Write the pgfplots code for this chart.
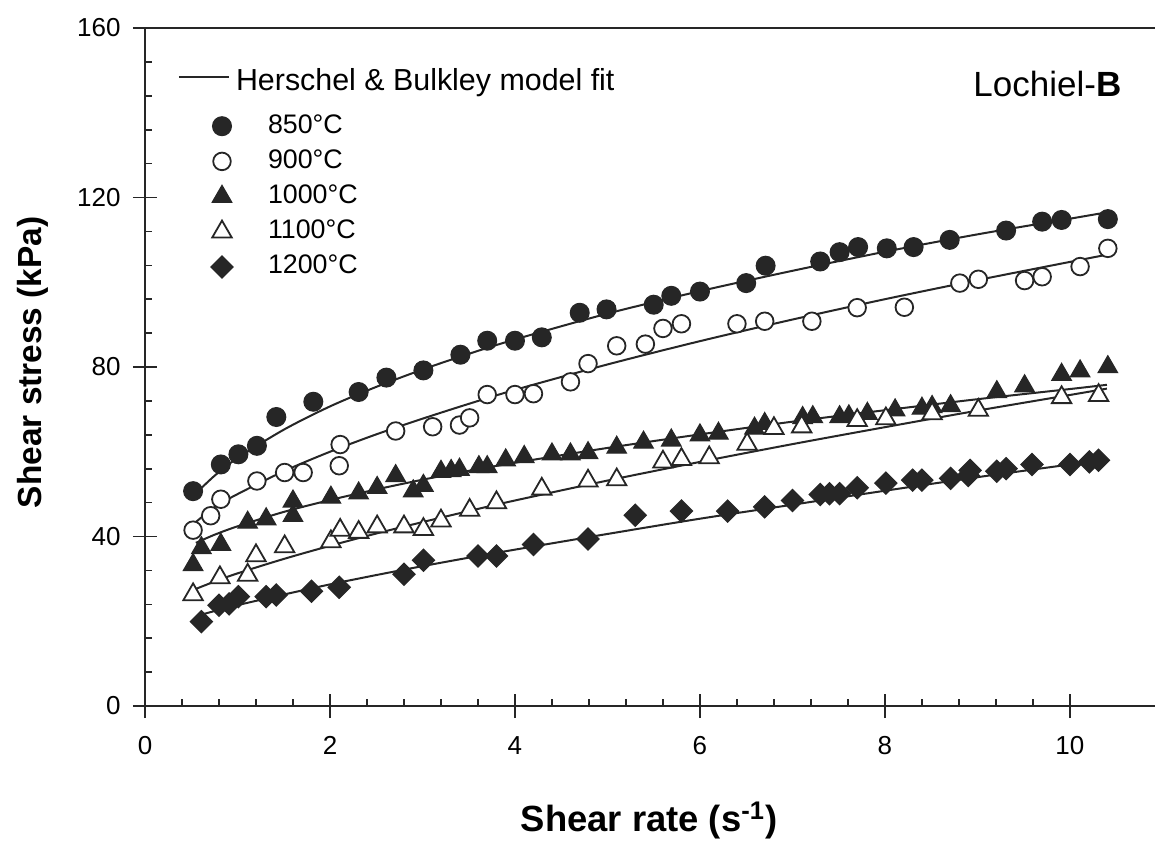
\documentclass[border=0pt]{standalone}
\usepackage{fontspec}
\setmainfont{Liberation Sans}
\usepackage{pgfplots}
\pgfplotsset{compat=1.18}
\pgfplotsset{markleg/.style={legend image code/.code={\path (-21.5pt,0pt) (3.5pt,0pt); \draw[##1] plot coordinates {(0pt,-0.3pt)};}},
  lineleg/.style={legend image code/.code={\draw[black!85, line width=1pt] (-21.5pt,5pt) -- (3.5pt,5pt);}}}
\newcommand\tickfont{\fontsize{13}{15}\selectfont}
\newcommand\legfont{\fontsize{13.4}{16}\selectfont}
\begin{document}
\begin{tikzpicture}
\useasboundingbox (-72.5pt,-70.5pt) rectangle (505pt,353pt);
\begin{axis}[
  scale only axis, width=505pt, height=339pt,
  xmin=0, xmax=10.92, ymin=0, ymax=160,
  axis x line=box, axis y line=left,
  axis line style={-, line width=0.9pt, black!85},
  xtick={0,2,4,6,8,10}, ytick={0,40,80,120,160},
  minor x tick num=4, minor y tick num=4,
  xtick pos=left, ytick pos=left,
  tick align=inside,
  major tick length=12pt, minor tick length=3.5pt,
  tick style={line width=0.8pt, black!85},
  major x tick style={yshift=-6pt},
  major y tick style={xshift=-6pt},
  /pgf/number format/assume math mode=true,
  xticklabel style={font=\tickfont, anchor=north, inner sep=0pt, yshift=-15pt},
  yticklabel style={font=\tickfont, anchor=east, inner sep=0pt, xshift=-12pt},
  xlabel={\textbf{Shear rate (s\textsuperscript{-1})}},
  ylabel={\textbf{Shear stress (kPa)}},
  every axis x label/.style={at={(axis description cs:0.499,-0.1855)}, anchor=base, font=\fontsize{18.2}{21}\selectfont},
  every axis y label/.style={at={(axis description cs:-0.1024,0.507)}, rotate=90, anchor=base, font=\fontsize{16.7}{20}\selectfont},
  legend style={at={(0,1)}, anchor=north west, xshift=16.5pt, yshift=-18.5pt,
    draw=none, fill=none, inner sep=0pt, outer sep=0pt, column sep=1.5pt, row sep=0pt,
    nodes={inner sep=0pt, text height=12.5pt, text depth=5.1pt, font=\legfont}},
  legend cell align=left,
]
\addlegendimage{lineleg}
\addlegendentry[text depth=9pt, font=\fontsize{15.2}{18}\selectfont]{Herschel \& Bulkley model fit}

% Herschel-Bulkley fit lines
\addplot[black!85, line width=1pt, smooth, no marks, forget plot] coordinates {
(0.5,49.1)(0.75,54.3)(1,58.5)(1.5,65.2)(2,70.7)(2.5,75.3)(3,79.4)(3.5,83.1)(4,86.5)(5,92.6)(6,97.9)(7,102.7)(8,107.2)(9,111.3)(10,115.0)(10.4,116.5)};
\addplot[black!85, line width=1pt, smooth, no marks, forget plot] coordinates {
(0.5,42.5)(0.75,46.9)(1,50.0)(1.5,55.4)(2,60.0)(2.5,64.1)(3,67.8)(3.5,71.3)(4,74.6)(5,80.6)(6,86.1)(7,91.2)(8,96.0)(9,100.5)(10,104.8)(10.4,106.5)};
\addplot[black!85, line width=1pt, smooth, no marks, forget plot] coordinates {
(0.55,38.5)(0.75,40.4)(1,42.4)(1.5,45.8)(2,48.6)(2.5,51.1)(3,53.4)(3.5,55.5)(4,57.4)(5,60.9)(6,64.1)(7,67.1)(8,69.8)(9,72.4)(10,74.8)(10.4,75.8)};
\addplot[black!85, line width=1pt, smooth, no marks, forget plot] coordinates {
(0.5,27.2)(0.75,29.35)(1,31.3)(1.5,34.7)(2,37.8)(2.5,40.7)(3,43.4)(3.5,46.0)(4,48.5)(5,53.2)(6,57.6)(7,61.8)(8,65.8)(9,69.7)(10,73.4)(10.4,74.9)};
\addplot[black!85, line width=1pt, smooth, no marks, forget plot] coordinates {
(0.6,21.5)(0.75,22.4)(1,23.8)(1.5,26.3)(2,28.7)(2.5,30.9)(3,33.0)(3.5,35.0)(4,36.9)(5,40.6)(6,44.2)(7,47.5)(8,50.8)(9,54.0)(10,57.0)(10.3,58.0)};

% 850 C
\addplot[only marks, mark=*, mark size=4.7pt, mark options={fill=black!85, draw=black!85, line width=0.6pt}, markleg] coordinates {
(0.52,50.7)(0.82,57.0)(1.01,59.4)(1.21,61.4)(1.42,68.2)(1.82,71.8)(2.31,74.1)(2.61,77.5)(3.01,79.2)(3.41,82.9)(3.70,86.2)(4.0,86.2)(4.29,87.0)(4.70,92.8)(4.99,93.6)(5.50,94.7)(5.69,96.8)(6.0,97.8)(6.50,99.8)(6.71,103.9)(7.30,104.9)(7.51,107.1)(7.71,108.3)(8.02,108.0)(8.31,108.3)(8.70,110.0)(9.31,112.2)(9.70,114.3)(9.91,114.7)(10.41,114.9)};
\addlegendentry{\hspace*{16pt}850°C}
% 900 C
\addplot[only marks, mark=*, mark size=4.4pt, mark options={fill=white, draw=black!85, line width=0.9pt}, markleg] coordinates {
(0.52,41.5)(0.71,44.9)(0.82,48.8)(1.21,53.1)(1.51,55.1)(1.71,55.1)(2.10,56.7)(2.11,61.7)(2.71,64.9)(3.11,65.9)(3.40,66.3)(3.51,68.0)(3.70,73.5)(4.0,73.5)(4.2,73.7)(4.60,76.5)(4.79,80.8)(5.10,85.0)(5.41,85.4)(5.60,89.1)(5.80,90.2)(6.40,90.2)(6.70,90.8)(7.21,90.8)(7.70,94.0)(8.21,94.1)(8.81,99.8)(9.01,100.7)(9.51,100.4)(9.70,101.3)(10.11,103.7)(10.41,108.0)};
\addlegendentry{\hspace*{16pt}900°C}
% 1000 C
\addplot[only marks, mark=triangle*, mark size=5.6pt, mark options={fill=black!85, draw=black!85, line width=0.6pt}, markleg] coordinates {
(0.52,33.3)(0.61,37.3)(0.82,38.1)(1.11,43.3)(1.31,44.1)(1.60,44.9)(1.60,48.3)(2.01,49.2)(2.31,50.2)(2.51,51.5)(2.71,54.3)(2.90,50.7)(3.01,52.0)(3.20,55.3)(3.31,55.5)(3.40,55.8)(3.61,56.4)(3.70,56.4)(3.90,58.0)(4.10,58.8)(4.40,59.4)(4.60,59.4)(4.79,59.7)(5.10,61.0)(5.39,62.2)(5.69,62.7)(6.0,63.9)(6.20,64.3)(6.59,65.5)(6.70,66.6)(7.11,68.0)(7.22,68.2)(7.51,68.2)(7.61,68.4)(7.81,69.0)(8.11,69.8)(8.40,70.2)(8.51,70.6)(8.71,70.8)(9.21,74.1)(9.51,75.5)(9.91,78.2)(10.11,79.0)(10.41,80.0)};
\addlegendentry{\hspace*{16pt}1000°C}
% 1100 C
\addplot[only marks, mark=triangle*, mark size=5.6pt, mark options={fill=white, draw=black!85, line width=0.9pt}, markleg] coordinates {
(0.52,26.3)(0.81,30.3)(1.11,30.9)(1.20,35.5)(1.51,37.6)(2.01,38.8)(2.11,41.5)(2.31,41.0)(2.51,42.3)(2.80,42.3)(3.01,41.7)(3.20,43.7)(3.51,46.2)(3.80,48.0)(4.29,51.2)(4.79,53.1)(5.10,53.4)(5.60,57.6)(5.80,58.2)(6.10,58.6)(6.51,61.8)(6.80,65.5)(7.10,65.9)(7.70,67.4)(8.01,67.8)(8.51,69.0)(9.01,69.8)(9.91,72.8)(10.31,73.3)};
\addlegendentry{\hspace*{16pt}1100°C}
% 1200 C
\addplot[only marks, mark=square*, mark size=3.9pt, mark options={rotate=45, fill=black!85, draw=black!85, line width=0.6pt}, markleg] coordinates {
(0.61,19.9)(0.80,23.8)(0.91,24.1)(1.01,25.8)(1.31,25.8)(1.42,26.2)(1.80,27.1)(2.10,28.0)(2.80,31.1)(3.01,34.4)(3.60,35.4)(3.80,35.4)(4.20,38.1)(4.79,39.4)(5.30,45.0)(5.80,46.0)(6.30,46.0)(6.70,47.0)(7.00,48.5)(7.30,49.9)(7.40,50.1)(7.51,50.1)(7.70,51.5)(8.01,52.6)(8.30,53.3)(8.40,53.3)(8.71,53.7)(8.90,54.4)(8.92,55.6)(9.21,55.4)(9.31,56.0)(9.59,57.0)(10.00,57.0)(10.21,57.6)(10.31,58.0)};
\addlegendentry{\hspace*{16pt}1200°C}

\node[anchor=base east, inner sep=0pt, font=\fontsize{17.5}{20}\selectfont] at (axis cs:10.56,143.8) {Lochiel-\textbf{B}};
\end{axis}
\end{tikzpicture}
\end{document}
